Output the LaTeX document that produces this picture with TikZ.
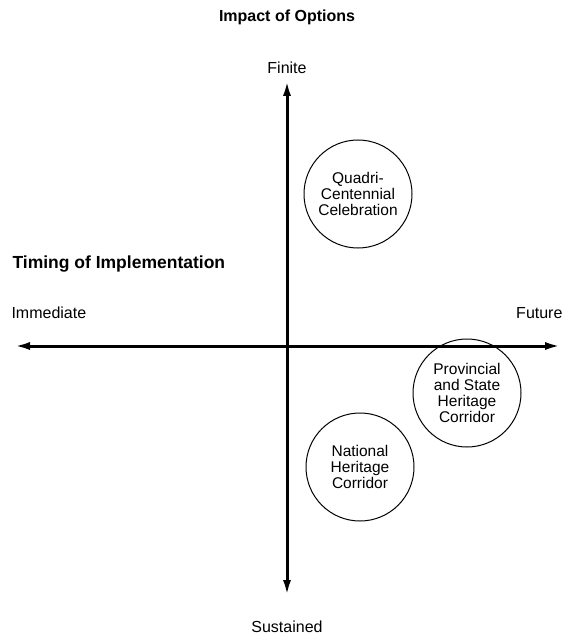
\documentclass[tikz,border=0pt]{standalone}
\usepackage{fontspec}
\setmainfont{Liberation Sans}
\usepackage{tikz}
\usetikzlibrary{arrows.meta,positioning}

\begin{document}
\begin{tikzpicture}[x=1pt,y=-1pt,
    heading/.style={font=\fontsize{16}{18}\selectfont\bfseries},
    endlabel/.style={font=\fontsize{16}{18}\selectfont},
    option/.style={circle,draw,line width=1pt,minimum size=108pt,inner sep=0pt,
                   align=center,font=\fontsize{15.5}{16}\selectfont},
    axis/.style={line width=3pt,{Latex[length=16pt,width=8pt]}-{Latex[length=16pt,width=8pt]}}]
  \useasboundingbox (0,0) rectangle (570,639);
  % headings
  \node[heading] (impact) at (287,17) {Impact of Options};
  \node[heading,font=\fontsize{17.5}{19}\selectfont\bfseries,anchor=west] (timing) at (9,264) {Timing of Implementation};
  % axis ends
  \node[endlabel] (finite) at (287,68) {Finite};
  \node[endlabel] (sustained) at (287,627) {Sustained};
  \node[endlabel,anchor=west] (immediate) at (8,313) {Immediate};
  \node[endlabel,anchor=east] (future) at (566,313) {Future};
  \coordinate (top) at (287,80);
  \coordinate (bottom) at (287,596);
  \coordinate (left) at (14,346);
  \coordinate (right) at (561,346);
  \draw[axis] (left) -- (right);
  \draw[axis] (bottom) -- (top);
  % options
  \node[option] (quadri) at (358,194) {Quadri-\\Centennial\\Celebration};
  \node[option] (provincial) at (467,393) {Provincial\\and State\\Heritage\\Corridor};
  \node[option] (national) at (360,467) {National\\Heritage\\Corridor};
\end{tikzpicture}
\end{document}
